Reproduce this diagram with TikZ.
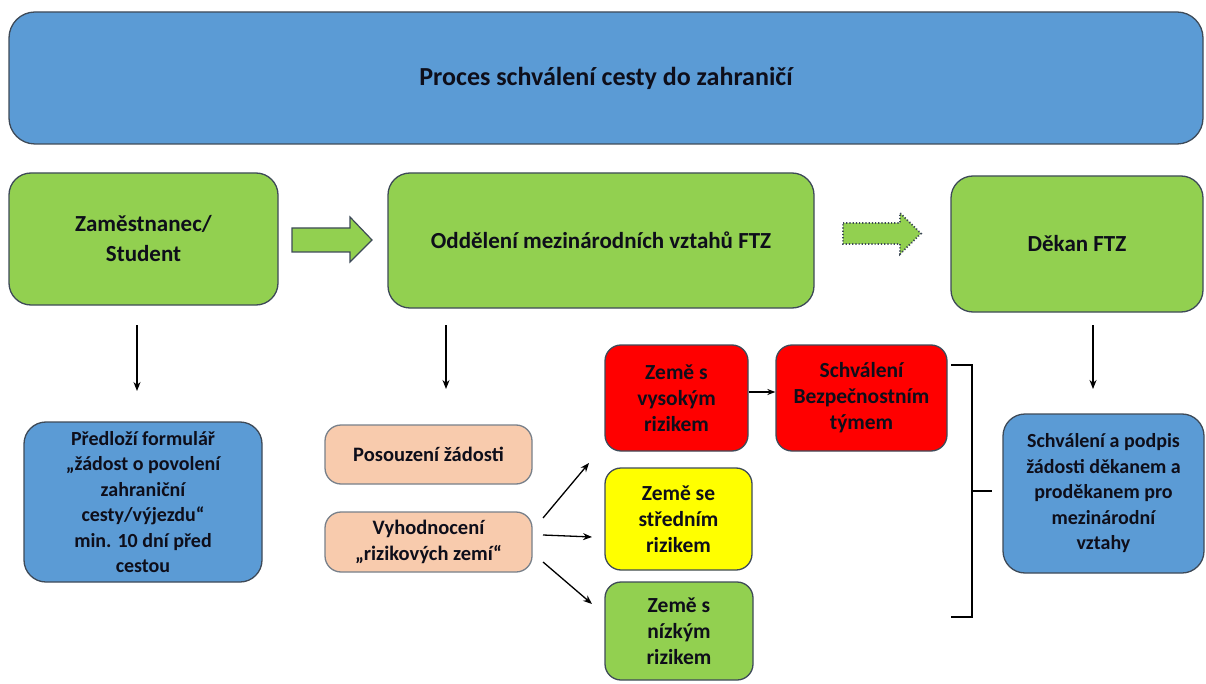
\documentclass[tikz,border=0pt]{standalone}
\usepackage{fontspec}
\setmainfont{Carlito}
\usetikzlibrary{arrows.meta}
\definecolor{bluef}{HTML}{5B9BD5}
\definecolor{greenf}{HTML}{92D050}
\definecolor{peachf}{HTML}{F8CBAD}
\definecolor{redf}{HTML}{FF0000}
\definecolor{yellowf}{HTML}{FFFF00}
\definecolor{edge}{HTML}{3E4A58}
\definecolor{txt}{HTML}{0E0E1A}
\tikzset{
  box/.style={draw=edge, line width=1.3pt, rounded corners=22pt, align=center, inner sep=2pt, text=txt, font=\bfseries\fontsize{20}{25.5}\selectfont},
  bigbox/.style={box, font=\bfseries\fontsize{23}{30}\selectfont},
  smallbox/.style={box, rounded corners=16pt},
  riskbox/.style={smallbox, font=\bfseries\fontsize{21.5}{26}\selectfont},
  blockarrow/.style={fill=greenf, draw=edge, line width=1.2pt, line join=miter},
  conn/.style={draw=black, line width=1.3pt, -{Stealth[length=9pt,width=7pt]}},
  bracketline/.style={draw=black, line width=1.4pt}
}
\begin{document}
\begin{tikzpicture}[x=1pt,y=-1pt]
\fill[white] (0,0) rectangle (1206,684);
\useasboundingbox (0,0) rectangle (1206,684);

\node[box, fill=bluef, rounded corners=26pt, minimum width=1194pt, minimum height=132pt, font=\bfseries\fontsize{26}{30}\selectfont] (title) at (606,78) {Proces schválení cesty do zahraničí};

\node[bigbox, fill=greenf, minimum width=269pt, minimum height=132pt] (emp) at (143.5,239) {Zaměstnanec/\\Student};
\node[bigbox, fill=greenf, minimum width=426pt, minimum height=135pt] (odd) at (601,240.5) {Oddělení mezinárodních vztahů FTZ};
\node[bigbox, fill=greenf, minimum width=252pt, minimum height=136pt] (dek) at (1077,244) {Děkan FTZ};

\node[box, fill=bluef, minimum width=238pt, minimum height=160pt] (predl) at (143,502) {Předloží formulář\\„žádost o povolení\\zahraniční\\cesty/výjezdu“\\min. 10 dní před\\cestou};
\node[smallbox, fill=peachf, draw=edge!70, minimum width=207pt, minimum height=59pt, font=\bfseries\fontsize{20.5}{25.5}\selectfont] (posouz) at (428.5,454.5) {Posouzení žádosti};
\node[smallbox, fill=peachf, draw=edge!70, minimum width=207pt, minimum height=60pt, font=\bfseries\fontsize{20.5}{25.5}\selectfont] (vyhod) at (428.5,542) {Vyhodnocení\\„rizikových zemí“};

\node[riskbox, fill=redf, minimum width=143pt, minimum height=106pt] (high) at (676.5,398) {Země s\\vysokým\\rizikem};
\node[riskbox, fill=redf, minimum width=171pt, minimum height=106pt] (schval) at (861.5,398) {Schválení\\Bezpečnostním\\týmem};
\node[riskbox, fill=yellowf, minimum width=147pt, minimum height=102pt] (mid) at (678.5,519) {Země se\\středním\\rizikem};
\node[riskbox, fill=greenf, minimum width=148pt, minimum height=98pt] (low) at (679,631) {Země s\\nízkým\\rizikem};

\node[box, fill=bluef, minimum width=201pt, minimum height=159pt] (podpis) at (1103.5,493.5) {Schválení a podpis\\žádosti děkanem a\\proděkanem pro\\mezinárodní\\vztahy};

% block arrows
\draw[blockarrow] (292,228) -- (350,228) -- (350,217) -- (372,240) -- (350,262) -- (350,252) -- (292,252) -- cycle;
\draw[blockarrow, dotted, line width=1.8pt] (843,223) -- (900,223) -- (900,213) -- (921,233.5) -- (900,254) -- (900,244) -- (843,244) -- cycle;

% down arrows
\coordinate (a1s) at (137,325); \coordinate (a1e) at (137,391);
\coordinate (a2s) at (446,325); \coordinate (a2e) at (446,389);
\coordinate (a3s) at (1093,325); \coordinate (a3e) at (1093,389);
\draw[conn] (a1s) -- (a1e);
\draw[conn] (a2s) -- (a2e);
\draw[conn] (a3s) -- (a3e);

% fan arrows
\coordinate (f1s) at (543,518); \coordinate (f1e) at (589,463);
\coordinate (f2s) at (543,535); \coordinate (f2e) at (592,537);
\coordinate (f3s) at (543,562); \coordinate (f3e) at (592,604);
\draw[conn] (f1s) -- (f1e);
\draw[conn] (f2s) -- (f2e);
\draw[conn] (f3s) -- (f3e);

\draw[conn, -{Stealth[length=8pt,width=6pt]}] (high.east |- 0,392) -- (schval.west |- 0,392);

% bracket
\coordinate (bt) at (951,365); \coordinate (bb) at (951,617);
\coordinate (bm) at (992,491);
\draw[bracketline] (bt) -- (972,365) -- (972,617) -- (bb);
\draw[bracketline] (972,491) -- (bm);
\end{tikzpicture}
\end{document}
